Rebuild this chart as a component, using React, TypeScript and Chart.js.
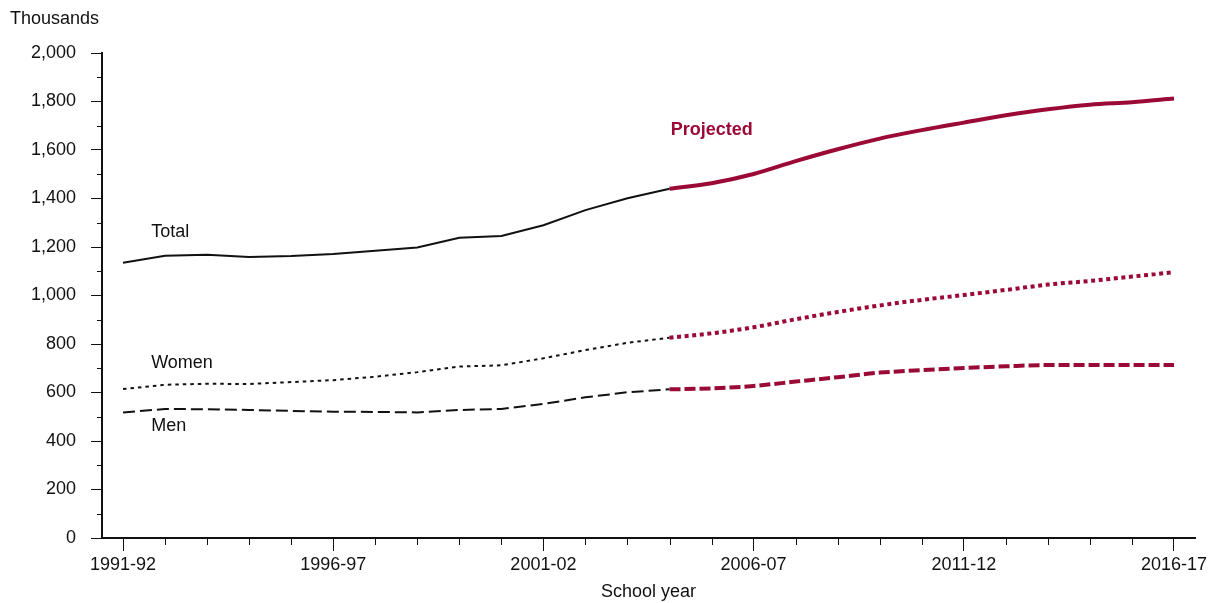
import React, { useEffect, useRef } from 'react';
import { Chart, registerables } from 'chart.js';

Chart.register(...registerables);

const years = [
  '1991-92', '1992-93', '1993-94', '1994-95', '1995-96', '1996-97', '1997-98', '1998-99',
  '1999-00', '2000-01', '2001-02', '2002-03', '2003-04', '2004-05', '2005-06', '2006-07',
  '2007-08', '2008-09', '2009-10', '2010-11', '2011-12', '2012-13', '2013-14', '2014-15',
  '2015-16', '2016-17',
];

const totalValues = [
  1135, 1164, 1168, 1159, 1163, 1171, 1185, 1198, 1238, 1245, 1290, 1352, 1401,
  1440, 1463, 1501, 1554, 1603, 1647, 1682, 1713, 1743, 1768, 1787, 1797, 1812,
];

const womenValues = [
  614, 632, 636, 635, 643, 651, 665, 684, 707, 712, 741, 775, 805,
  826, 844, 869, 902, 932, 959, 982, 1002, 1023, 1045, 1060, 1078, 1096,
];

const menValues = [
  518, 532, 531, 528, 524, 521, 520, 518, 528, 532, 553, 580, 601,
  613, 617, 627, 645, 663, 682, 692, 701, 708, 713, 713, 713, 713,
];

// index of the last actual year / first projected year (2004-05)
const projectionStartIndex = 13;

const seriesLabels = [
  { text: 'Total', index: 0.67, value: 1262, bold: false, color: '#111111' },
  { text: 'Women', index: 0.67, value: 722, bold: false, color: '#111111' },
  { text: 'Men', index: 0.67, value: 462, bold: false, color: '#111111' },
  { text: 'Projected', index: 13.03, value: 1682, bold: true, color: '#9b0a36' },
];

const yAxisUnit = 'Thousands';
const xAxisTitle = 'School year';

const CRIMSON = '#9b0a36';
const INK = '#111111';
const FONT = '"Liberation Sans", Arial, Helvetica, sans-serif';
const FONT_SIZE = 18;

function actual(values: number[]) {
  return values.map((v, i) => (i <= projectionStartIndex ? v : null));
}
function projected(values: number[]) {
  return values.map((v, i) => (i >= projectionStartIndex ? v : null));
}

const decorPlugin = {
  id: 'decor',
  afterDraw(chart: any) {
    const { ctx, scales } = chart;
    const x = scales.x;
    const y = scales.y;
    ctx.save();
    ctx.strokeStyle = INK;
    ctx.lineWidth = 1;
    // minor x ticks
    ctx.beginPath();
    years.forEach((_, i) => {
      if (i % 5 !== 0) {
        const px = Math.round(x.getPixelForValue(i)) + 0.5;
        ctx.moveTo(px, y.bottom);
        ctx.lineTo(px, y.bottom + 7);
      }
    });
    // minor y ticks
    for (let v = 100; v < 2000; v += 200) {
      const py = Math.round(y.getPixelForValue(v)) + 0.5;
      ctx.moveTo(x.left - 5, py);
      ctx.lineTo(x.left, py);
    }
    ctx.stroke();

    // unit label
    ctx.fillStyle = INK;
    ctx.font = `${FONT_SIZE}px ${FONT}`;
    ctx.textAlign = 'left';
    ctx.textBaseline = 'middle';
    ctx.fillText(yAxisUnit, 10, 19);

    // series labels
    seriesLabels.forEach((l) => {
      ctx.font = `${l.bold ? 'bold ' : ''}${FONT_SIZE}px ${FONT}`;
      ctx.fillStyle = l.color;
      ctx.fillText(l.text, x.getPixelForValue(l.index), y.getPixelForValue(l.value));
    });
    ctx.restore();
  },
};

export default function App() {
  const canvasRef = useRef<HTMLCanvasElement | null>(null);

  useEffect(() => {
    document.body.style.margin = '0';
    const canvas = canvasRef.current;
    if (!canvas) return;

    const base = {
      pointRadius: 0,
      fill: false,
      spanGaps: false,
      borderCapStyle: 'butt' as const,
    };

    const chart = new Chart(canvas, {
      type: 'line',
      data: {
        labels: years,
        datasets: [
          { ...base, label: 'Total', data: actual(totalValues), borderColor: INK, borderWidth: 2, tension: 0 },
          { ...base, label: 'Women', data: actual(womenValues), borderColor: INK, borderWidth: 2, borderDash: [3.5, 4], tension: 0 },
          { ...base, label: 'Men', data: actual(menValues), borderColor: INK, borderWidth: 2, borderDash: [12, 5], tension: 0 },
          { ...base, label: 'Total (projected)', data: projected(totalValues), borderColor: CRIMSON, borderWidth: 4, cubicInterpolationMode: 'monotone' },
          { ...base, label: 'Women (projected)', data: projected(womenValues), borderColor: CRIMSON, borderWidth: 4, borderDash: [4, 3.6], cubicInterpolationMode: 'monotone' },
          { ...base, label: 'Men (projected)', data: projected(menValues), borderColor: CRIMSON, borderWidth: 4, borderDash: [11, 4], cubicInterpolationMode: 'monotone' },
        ],
      },
      options: {
        animation: false,
        responsive: true,
        maintainAspectRatio: false,
        layout: { padding: { left: 0, right: 17, top: 53, bottom: 0 } },
        plugins: {
          legend: { display: false },
          tooltip: { enabled: false },
          title: { display: false },
        },
        scales: {
          x: {
            type: 'category',
            offset: true,
            grid: {
              display: true,
              drawOnChartArea: false,
              offset: false,
              tickLength: 13,
              tickWidth: 1,
              tickColor: (c: any) => (c.index % 5 === 0 ? INK : 'rgba(0,0,0,0)'),
            },
            border: { display: true, color: INK, width: 2 },
            ticks: {
              autoSkip: false,
              maxRotation: 0,
              padding: 3,
              color: INK,
              font: { family: FONT, size: FONT_SIZE },
              callback: (_v: any, i: number) => (i % 5 === 0 ? years[i] : ''),
            },
            title: {
              display: true,
              text: xAxisTitle,
              color: INK,
              font: { family: FONT, size: FONT_SIZE },
              padding: { top: 0, bottom: 0 },
            },
            afterFit: (s: any) => {
              s.height = 65;
            },
          },
          y: {
            min: 0,
            max: 2000,
            grid: {
              display: true,
              drawOnChartArea: false,
              tickLength: 11,
              tickWidth: 1,
              tickColor: INK,
            },
            border: { display: true, color: INK, width: 2 },
            ticks: {
              stepSize: 200,
              padding: 15,
              color: INK,
              font: { family: FONT, size: FONT_SIZE },
              callback: (v: any) => Number(v).toLocaleString('en-US'),
            },
            afterFit: (s: any) => {
              s.width = 102;
            },
          },
        },
      },
      plugins: [decorPlugin],
    });

    return () => chart.destroy();
  }, []);

  return (
    <div style={{ position: 'relative', width: 1212, height: 603 }}>
      <canvas ref={canvasRef} />
    </div>
  );
}
